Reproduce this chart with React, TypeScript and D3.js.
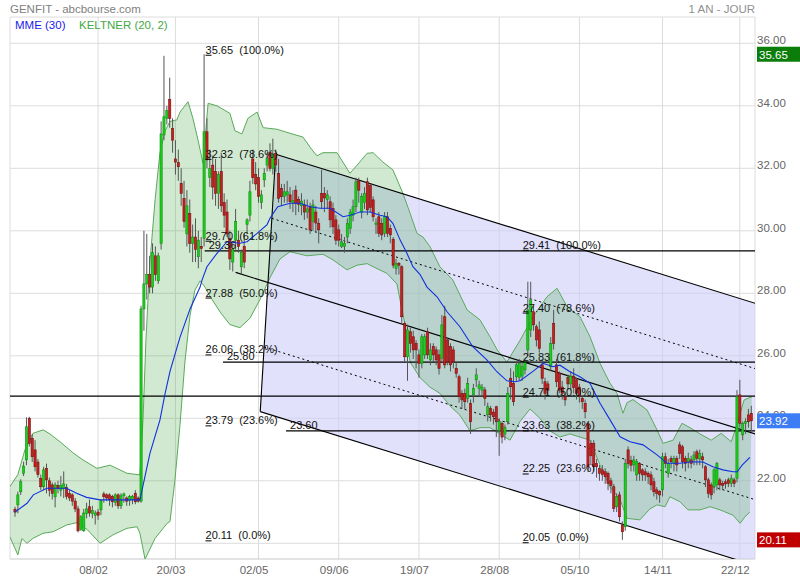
import React from "react";
import * as d3 from "d3";

// ---------- DATA ----------
// daily candles [open, high, low, close]
const ohlc: number[][] = [
  [21.09,21.17,20.85,21.0],[21.23,21.65,20.96,21.55],[21.65,22.05,21.55,21.97],[22.24,22.61,22.15,22.47],
  [22.67,24.03,22.5,23.73],[24.0,24.05,23.1,23.2],[23.36,23.5,22.6,22.77],[22.99,23.3,22.3,22.45],
  [22.6,22.7,22.1,22.2],[22.08,22.2,21.7,21.81],[21.81,22.45,21.7,22.35],[22.4,22.55,21.6,22.03],
  [22.0,22.1,21.5,21.7],[21.87,21.95,21.4,21.6],[21.49,21.95,21.15,21.87],[21.85,22.0,21.6,21.75],
  [21.7,22.15,21.5,21.85],[21.75,22.3,21.45,21.9],[21.78,21.9,21.4,21.5],[21.6,21.7,21.35,21.45],
  [21.55,21.6,21.2,21.35],[21.35,21.45,21.0,21.1],[21.1,21.2,20.35,20.4],[20.45,20.9,20.4,20.85],
  [20.4,21.1,20.37,20.97],[20.95,21.3,20.8,21.1],[21.17,21.4,20.85,20.97],[20.95,21.2,20.8,21.05],
  [20.9,21.05,20.6,20.97],[21.0,21.1,20.75,20.9],[21.07,21.4,20.9,21.36],[21.58,21.65,21.3,21.49],
  [21.55,21.6,21.35,21.45],[21.55,21.6,21.2,21.39],[21.5,21.55,21.15,21.33],[21.3,21.6,21.2,21.55],
  [21.55,21.6,21.1,21.2],[21.2,21.6,21.1,21.52],[21.52,21.62,21.3,21.58],[21.45,21.5,21.2,21.35],
  [21.38,21.55,21.2,21.5],[21.4,21.55,21.25,21.5],[21.6,21.7,21.25,21.33],[21.45,21.5,21.3,21.35],
  [21.35,27.6,21.3,27.5],[27.5,30.0,26.8,28.3],[28.3,29.9,27.8,28.6],[28.6,29.2,28.0,28.2],
  [28.2,29.6,28.0,29.3],[29.2,29.5,28.4,28.6],[28.4,29.3,28.3,29.2],[29.6,33.5,29.4,33.1],
  [33.07,35.6,32.9,33.65],[33.6,34.0,33.4,33.85],[34.2,34.9,33.3,33.6],[33.28,33.6,32.5,32.9],
  [32.3,32.9,31.8,32.2],[32.18,32.6,31.6,32.05],[31.52,32.0,30.8,31.2],[31.04,31.6,30.1,30.3],
  [29.9,31.3,29.5,30.8],[30.56,31.0,29.3,29.6],[29.6,30.2,29.0,29.8],[29.8,30.4,29.0,29.4],
  [29.17,30.0,28.8,29.7],[29.5,29.8,29.0,29.44],[29.76,35.65,29.5,33.17],[33.17,33.6,32.0,32.27],
  [31.7,32.6,31.4,32.0],[32.1,32.4,31.0,31.4],[31.9,32.3,30.8,31.2],[31.2,31.9,30.7,31.8],
  [31.9,32.5,30.6,30.8],[30.9,31.2,30.1,30.5],[30.6,31.0,29.8,29.9],[29.75,30.0,28.75,29.1],
  [29.0,29.6,28.7,29.4],[29.7,30.7,29.4,30.3],[29.7,30.0,29.3,29.5],[28.85,29.4,28.6,29.3],
  [29.5,29.9,28.8,29.0],[30.2,30.4,29.9,30.35],[30.5,31.6,30.3,31.25],[32.3,32.6,31.5,31.7],
  [31.8,32.2,31.3,31.5],[31.7,32.0,30.9,31.1],[30.9,31.3,30.7,31.15],[31.63,32.0,31.4,31.84],
  [32.1,32.5,31.9,32.32],[32.5,32.8,31.9,32.0],[32.0,32.95,31.8,32.45],[32.48,32.6,31.9,32.11],
  [31.84,32.3,30.9,31.04],[31.36,31.5,30.8,31.09],[31.1,31.5,30.9,31.25],[31.15,31.6,30.9,31.25],
  [31.15,31.4,30.7,30.93],[30.9,31.3,30.6,30.97],[31.3,31.45,30.5,30.88],[31.0,31.1,30.6,30.85],
  [30.8,31.2,30.5,30.95],[30.83,31.0,30.35,30.6],[30.6,31.0,30.4,30.7],[30.77,30.9,29.9,30.03],
  [30.3,31.0,30.0,30.83],[30.6,30.8,29.95,30.25],[30.24,30.4,29.6,30.03],[31.2,31.95,30.7,30.93],
  [31.2,31.4,30.6,31.05],[31.0,31.3,30.7,31.15],[30.93,31.1,30.1,30.35],[30.72,30.9,29.9,30.13],
  [30.35,30.5,29.55,29.7],[30.03,30.2,29.5,29.7],[29.5,29.9,29.45,29.65],[29.5,29.8,29.3,29.6],
  [29.8,30.4,29.6,30.24],[30.08,30.7,29.9,30.6],[30.5,31.0,30.3,30.77],[30.77,31.7,30.6,31.57],
  [31.6,31.7,30.9,31.3],[30.6,31.2,30.4,31.1],[30.9,31.4,30.7,31.2],[31.57,31.7,30.5,30.67],
  [31.45,31.5,30.6,30.75],[30.99,31.1,30.3,30.45],[30.2,30.4,29.9,30.25],[30.45,30.6,29.8,29.92],
  [30.24,30.4,29.7,29.87],[29.92,30.6,29.8,30.45],[30.45,30.6,29.8,29.92],[30.08,30.2,29.6,29.87],
  [29.73,29.8,28.8,28.9],[28.8,29.1,28.6,28.96],[28.96,29.0,28.6,28.9],[28.85,28.9,27.0,27.25],
  [27.04,27.1,25.8,25.97],[25.97,27.0,25.2,26.83],[26.77,26.9,26.1,26.4],[26.61,26.8,25.9,26.19],
  [26.4,26.5,25.6,26.19],[26.03,26.2,25.3,25.76],[25.76,26.7,25.6,26.61],[26.03,26.7,25.9,26.61],
  [26.77,26.9,25.9,26.03],[25.87,26.4,25.7,26.19],[26.3,26.4,25.8,26.03],[26.19,26.3,25.7,25.87],
  [26.03,26.2,25.4,25.6],[25.92,27.3,25.8,26.99],[27.25,27.6,25.6,25.71],[26.51,26.6,25.7,25.81],
  [26.3,26.4,25.5,25.71],[26.19,26.3,25.6,25.81],[25.6,25.8,25.3,25.44],[25.33,25.4,24.5,24.69],
  [24.8,24.9,24.3,24.59],[24.8,24.95,24.3,24.53],[24.64,25.3,24.5,25.12],[24.48,24.6,23.5,23.89],
  [24.75,25.1,24.5,24.96],[25.23,25.6,25.0,25.39],[24.96,25.2,24.7,25.07],[24.9,25.1,24.7,25.0],
  [24.91,25.0,24.4,24.64],[24.11,24.5,23.9,24.37],[24.32,24.4,23.9,24.11],[24.2,24.3,23.8,24.05],
  [24.37,24.4,23.4,23.89],[23.6,24.0,22.8,23.9],[23.84,23.9,23.2,23.4],[23.5,23.8,23.3,23.7],
  [23.89,25.0,23.8,24.8],[25.28,25.6,24.6,25.01],[25.12,25.5,24.4,24.53],[25.33,25.8,25.2,25.71],
  [25.3,25.9,25.2,25.75],[25.35,25.8,25.2,25.65],[25.55,25.9,25.4,25.81],[26.19,28.37,26.0,27.47],
  [26.83,28.37,26.6,27.79],[27.41,27.6,26.8,26.99],[26.93,27.0,26.3,26.51],[26.83,27.1,26.1,26.24],
  [25.71,25.9,25.1,25.28],[25.17,25.3,24.6,24.8],[25.1,25.2,24.7,24.9],[25.65,26.6,25.5,26.4],
  [27.04,27.47,26.2,26.4],[25.71,25.9,25.0,25.17],[25.45,25.5,24.8,24.9],[25.0,25.2,24.6,24.8],
  [24.69,24.8,24.4,24.59],[25.3,25.4,24.9,25.1],[25.1,25.5,24.9,25.35],[25.35,25.6,24.8,24.98],
  [25.23,25.3,24.6,24.8],[25.0,25.1,24.5,24.7],[24.64,24.7,24.3,24.53],[24.48,24.6,24.0,24.21],
  [23.84,23.9,22.3,22.45],[23.2,23.3,22.5,22.8],[23.2,23.3,22.3,22.45],[22.55,22.7,22.1,22.45],
  [22.4,22.5,22.0,22.24],[22.35,22.5,22.0,22.2],[22.29,22.4,21.9,22.13],[22.24,22.3,21.7,21.92],
  [22.0,22.1,21.6,21.85],[21.81,21.9,21.0,21.12],[21.17,21.6,21.0,21.49],[21.55,21.65,20.7,20.85],
  [20.59,20.7,20.11,20.37],[20.53,22.7,20.4,22.56],[22.99,23.1,22.4,22.56],[22.65,22.8,22.3,22.5],
  [22.51,22.8,22.3,22.67],[22.19,22.7,22.0,22.61],[22.56,22.6,22.0,22.24],[22.35,22.4,22.0,22.19],
  [22.29,22.4,22.0,22.19],[22.24,22.3,21.9,22.13],[22.19,22.3,21.7,21.87],[21.97,22.1,21.5,21.65],
  [21.71,21.8,21.4,21.6],[21.66,21.7,21.3,21.55],[21.71,22.9,21.5,22.77],[22.77,22.9,22.4,22.56],
  [22.24,22.7,22.1,22.56],[22.72,22.8,22.4,22.61],[22.56,22.8,22.3,22.72],[22.72,22.8,22.3,22.51],
  [23.15,23.25,22.7,22.88],[23.09,23.15,22.4,22.61],[22.72,22.8,22.3,22.56],[22.61,22.9,22.4,22.72],
  [22.67,22.8,22.4,22.56],[22.67,22.95,22.5,22.83],[22.93,23.0,22.5,22.72],[22.7,23.0,22.5,22.88],
  [22.77,22.9,22.4,22.67],[22.45,22.5,21.8,22.03],[22.03,22.1,21.45,21.6],[21.87,21.95,21.4,21.55],
  [21.81,22.4,21.6,22.35],[21.87,22.6,21.7,22.56],[22.03,22.1,21.7,21.87],[21.92,22.0,21.7,21.85],
  [21.97,22.05,21.75,21.9],[22.03,22.1,21.8,21.92],[21.92,22.2,21.8,22.08],[22.03,22.1,21.8,21.92],
  [22.08,24.9,21.95,24.69],[24.75,25.23,23.7,23.84],[23.47,23.9,23.3,23.84],[23.84,24.0,23.5,23.9],
  [24.11,24.3,23.7,23.89],[24.16,24.4,23.6,23.92],
];

const tickIdx = [29, 56, 85, 113, 141, 169, 197, 226, 253];
const tickLabels = ["08/02", "20/03", "02/05", "09/06", "19/07", "28/08", "05/10", "14/11", "22/12"];
const priceTicks = [20, 22, 24, 26, 28, 30, 32, 34, 36];

// Keltner (20, 2) bands and MME(30), read as [candle index, price]
const upperBand: number[][] = [
  [-1.8,21.81],[1,22.2],[3.5,23.0],[6.3,23.52],[9.8,23.63],[12.2,23.5],[15.7,23.25],[20.2,22.9],[23.7,22.67],
  [28.6,22.4],[33.2,22.5],[39.1,22.24],[43.6,22.19],[44.7,24.0],[45.7,26.5],[47.1,29.0],[48.9,31.0],
  [50.6,32.5],[52.4,33.2],[54.1,33.5],[56.5,33.55],[57.6,33.8],[60.4,34.13],[62.1,33.6],[63.9,32.9],
  [65.6,32.16],[67.4,34.08],[70.5,34.0],[75,33.76],[76.8,33.2],[79.2,33.1],[81.3,33.6],[84.5,33.8],
  [86.6,33.3],[91.4,33.25],[96,33.12],[100.5,33.0],[103.6,32.6],[105.4,32.4],[107.5,32.5],[112.4,32.5],
  [116.9,31.84],[119.4,32.1],[122.9,32.48],[125,32.5],[128.4,32.2],[131.9,31.95],[135.4,31.2],[137.9,30.56],
  [140.3,29.92],[142.4,29.8],[144.8,29.5],[148.3,28.85],[152.8,28.43],[157.8,27.47],[162.3,27.15],
  [165.8,26.61],[168.3,26.19],[171.7,25.8],[172.8,25.97],[176.3,26.5],[180.8,27.25],[185.7,27.89],
  [189.2,28.16],[192.7,27.57],[197.2,27.25],[200.7,26.61],[204.2,25.76],[207.7,25.12],[210.1,24.8],
  [212.2,24.16],[213.6,24.5],[215.7,24.6],[220.6,24.27],[224.1,23.63],[226.2,23.2],[229.7,23.3],
  [232.8,23.84],[235.6,23.7],[239.1,23.5],[243,23.3],[246.5,23.52],[250,23.25],[251.4,23.63],
  [254.5,24.59],[257.2,24.69],
];
const lowerBand: number[][] = [
  [-1.8,20.21],[1,19.63],[2.4,20.15],[4.2,20.0],[6.3,20.16],[9.8,20.32],[13.3,20.37],[18.1,20.59],
  [21.6,20.66],[25.1,20.45],[29.7,20.0],[34.2,20.27],[39.1,20.48],[42.6,20.53],[43.6,20.32],[45.4,19.49],
  [48.9,20.16],[53.1,20.64],[54.1,20.7],[55.8,22.0],[57.6,23.8],[59.3,25.8],[61.1,27.3],[62.8,28.1],
  [64.6,28.4],[66.3,28.2],[68.1,27.9],[71.6,27.4],[75,27.0],[78.5,26.9],[82,27.2],[85.5,27.8],[89,28.5],
  [92.5,29.1],[96,29.33],[101.9,29.2],[107.5,29.25],[111,29.07],[115.9,28.75],[119.4,28.9],[122.9,28.95],
  [125,28.85],[129.8,28.64],[133.3,28.3],[136.1,27.0],[137.9,25.8],[141.4,25.3],[144.8,25.0],[148.3,24.8],
  [151.8,24.4],[155.3,24.1],[158.8,23.6],[162.3,23.7],[165.8,23.7],[169.3,23.5],[172.8,23.3],[176.3,23.9],
  [179.8,24.3],[183.2,24.0],[186.7,23.6],[190.2,23.4],[193.7,23.5],[197.2,23.4],[200.7,23.3],[204.2,22.5],
  [207.7,21.8],[211.2,21.4],[213.6,20.8],[218.1,20.75],[221.6,21.1],[224.1,21.23],[226.9,21.17],
  [228.6,21.49],[232.1,21.33],[234.9,21.07],[239.1,21.07],[242.6,21.17],[246.1,21.07],[250.6,20.9],
  [253.1,20.64],[254.8,20.85],[256.5,21.0],
];
const mme: number[][] = [
  [0,21.0],[4.2,21.28],[6.4,21.55],[11.1,21.76],[18,21.76],[21.5,21.6],[25,21.47],[29.7,21.39],[43.6,21.39],
  [47.1,22.88],[50.6,23.95],[52.4,24.8],[54.1,25.5],[57.6,26.6],[61.1,27.5],[64.6,28.2],[65.3,28.43],
  [67,28.85],[70.5,29.28],[74,29.65],[78.5,29.6],[81,29.65],[84.5,29.92],[88,30.2],[89,30.4],[91.7,30.77],
  [96,30.88],[99.5,30.88],[103,30.77],[106.5,30.72],[110,30.72],[114.5,30.45],[117,30.5],[120.4,30.6],
  [124,30.6],[127.4,30.5],[129.8,30.45],[131.9,30.24],[134.4,29.71],[136.8,29.28],[138.9,28.85],
  [141.4,28.6],[143.8,28.2],[147.3,27.89],[150.8,27.41],[155.3,26.93],[159.8,26.29],[164.7,25.87],
  [168.2,25.49],[171.7,25.2],[174.5,25.17],[176.3,25.2],[180.8,25.5],[184.3,25.76],[187.8,25.65],
  [190.2,25.7],[193.7,25.49],[197.2,25.33],[200.7,25.12],[204.2,24.48],[207.7,23.95],[211.2,23.41],
  [214.7,23.25],[219.2,23.15],[224.1,22.83],[227.6,22.56],[232.1,22.56],[236.6,22.61],[240.1,22.6],
  [243.6,22.45],[247.1,22.35],[250.6,22.29],[252.1,22.29],[253.8,22.5],[256.5,22.75],
];

// Fibonacci retracements
const fibPct = ["100.0%", "78.6%", "61.8%", "50.0%", "38.2%", "23.6%", "0.0%"];
const fibA = [35.65, 32.32, 29.7, 27.88, 26.06, 23.79, 20.11];
const fibAAnchor = 66.5;
const fibB = [29.41, 27.4, 25.83, 24.71, 23.63, 22.25, 20.05];
const fibBAnchor = 177.2;

// horizontal lines: value, start index, label
const hLineValues = [29.36, 25.8, 24.71, 23.6];
const hLineStart = [66.2, 72.6, -2, 94.6];
const hLineLabels = ["29.36", "25.80", "", "23.60"];

// parallel channel (prices at index chanStart, slope per candle)
const chanStart = 91;
const chanSlope = -0.0285;
const chanTop = 32.45;
const chanMid = 28.27;
const chanBot = 24.06;
const chanBotStart = 85.6;
const chanMidStart = 77;

const lastHigh = 35.65;
const lastClose = 23.92;
const lastLow = 20.11;

// ---------- CHART ----------
export default function App() {
  const W = 800, H = 580;
  const L = 10, R = 755, T = 17, B = 559;
  const x = d3.scaleLinear().domain([0, ohlc.length - 1]).range([15, 751.3]);
  const y = d3.scaleLinear().domain([20, 36]).range([543.3, 43.3]);
  const line = d3.line<number[]>().x((d) => x(d[0])).y((d) => y(d[1]));

  const bandPath =
    (line(upperBand) as string) +
    "L" +
    (line(lowerBand.slice().reverse()) as string).slice(1) +
    "Z";

  const iR = x.invert(R + 2);
  const chan = (off: number, i: number) => off + chanSlope * (i - chanStart);
  const botLeftP = chan(chanBot, chanBotStart);
  const poly = [
    [chanStart, chanTop],
    [iR, chan(chanTop, iR)],
    [iR, chan(chanBot, iR)],
    [chanBotStart, botLeftP],
  ];
  const polyPath = (line(poly) as string) + "Z";
  const edgeT = (off: number) =>
    (off - chanTop) / (botLeftP - chanTop - chanSlope * (chanBotStart - chanStart));
  const edgeIdx = (off: number) => chanStart + edgeT(off) * (chanBotStart - chanStart);
  const dotOffsets = [(chanTop + chanMid) / 2, (chanMid + chanBot) / 2];

  const font = "Arial, 'Liberation Sans', Helvetica, sans-serif";
  const candleW = 2.2;

  return (
    <svg width={W} height={H} style={{ display: "block", position: "absolute", left: 0, top: 0 }} fontFamily={font}>
      <rect x={0} y={0} width={W} height={H} fill="#fff" />
      <defs>
        <clipPath id="plot">
          <rect x={L} y={T} width={R - L} height={B - T} />
        </clipPath>
      </defs>
      {/* grid */}
      <g stroke="#dcdcdc" strokeWidth={1}>
        {priceTicks.map((p) => (
          <line key={p} x1={L} x2={R} y1={y(p)} y2={y(p)} />
        ))}
        {tickIdx.map((t) => (
          <line key={t} x1={x(t)} x2={x(t)} y1={T} y2={B} />
        ))}
        <line x1={L} x2={R} y1={T} y2={T} />
        <line x1={L} x2={L} y1={T} y2={B} />
        <line x1={R} x2={R} y1={T} y2={B} />
        <line x1={L} x2={R} y1={B} y2={B} stroke="#c8c8c8" />
      </g>

      <g clipPath="url(#plot)">
        {/* channel fill */}
        <path d={polyPath} fill="rgba(205,205,250,0.6)" stroke="none" />
        {/* keltner band */}
        <path d={bandPath} fill="rgba(60,165,60,0.24)" stroke="none" />
        <path d={line(upperBand) as string} fill="none" stroke="#5aaa5a" strokeWidth={1} />
        <path d={line(lowerBand) as string} fill="none" stroke="#5aaa5a" strokeWidth={1} />

        {/* channel lines */}
        <g stroke="#000" strokeWidth={1.1} fill="none">
          <line x1={x(chanStart)} y1={y(chanTop)} x2={x(iR)} y2={y(chan(chanTop, iR))} />
          <line x1={x(chanBotStart)} y1={y(botLeftP)} x2={x(iR)} y2={y(chan(chanBot, iR))} />
          <line x1={x(chanStart)} y1={y(chanTop)} x2={x(chanBotStart)} y2={y(botLeftP)} />
          <line x1={x(chanMidStart)} y1={y(chan(chanMid, chanMidStart))} x2={x(iR)} y2={y(chan(chanMid, iR))} />
          {dotOffsets.map((o, k) => (
            <line key={k} x1={x(edgeIdx(o))} y1={y(chan(o, edgeIdx(o)))} x2={x(iR)} y2={y(chan(o, iR))}
              strokeDasharray="2,3" strokeWidth={1} />
          ))}
        </g>

        {/* horizontal lines */}
        {hLineValues.map((v, k) => (
          <line key={k} x1={Math.max(L, x(hLineStart[k]))} x2={R} y1={y(v)} y2={y(v)} stroke="#000" strokeWidth={1.2} />
        ))}

        {/* candles */}
        {ohlc.map((d, i) => {
          const [o, h, l, c] = d;
          const up = c >= o;
          const cx = x(i);
          const yt = y(Math.max(o, c));
          const yb = y(Math.min(o, c));
          return (
            <g key={i}>
              <line x1={cx} x2={cx} y1={y(h)} y2={y(l)} stroke="#555" strokeWidth={1} />
              <rect x={cx - candleW / 2} y={yt} width={candleW} height={Math.max(1, yb - yt)}
                fill={up ? "#1ccf1c" : "#c82020"} stroke={up ? "#119011" : "#7a1010"} strokeWidth={0.6} />
            </g>
          );
        })}

        {/* MME */}
        <path d={line(mme) as string} fill="none" stroke="#1030e0" strokeWidth={1.1} />
      </g>

      {/* fib labels */}
      <g fontSize={11} fill="#111">
        {fibA.map((v, k) => (
          <g key={"a" + k}>
            <text x={x(fibAAnchor)} y={y(v) - 0.5} style={{ whiteSpace: "pre" }}>{`${v.toFixed(2)}  (${fibPct[k]})`}</text>
            <line x1={x(fibAAnchor)} x2={x(fibAAnchor) + 6} y1={y(v) + 1} y2={y(v) + 1} stroke="#000" strokeWidth={1} />
          </g>
        ))}
        {fibB.map((v, k) => (
          <g key={"b" + k}>
            <text x={x(fibBAnchor)} y={y(v) - 0.5} style={{ whiteSpace: "pre" }}>{`${v.toFixed(2)}  (${fibPct[k]})`}</text>
            <line x1={x(fibBAnchor)} x2={x(fibBAnchor) + 6} y1={y(v) + 1} y2={y(v) + 1} stroke="#000" strokeWidth={1} />
          </g>
        ))}
        {hLineValues.map((v, k) =>
          hLineLabels[k] ? (
            <text key={"h" + k} x={x(hLineStart[k]) + 4} y={y(v) - 2}>{hLineLabels[k]}</text>
          ) : null
        )}
      </g>

      {/* title & legend */}
      <text x={10} y={13} fontSize={11.5} fill="#808080">GENFIT - abcbourse.com</text>
      <text x={755} y={13} fontSize={11.5} fill="#909090" textAnchor="end">1 AN - JOUR</text>
      <text x={15} y={29} fontSize={11.5} fill="#1a1aee">MME (30)</text>
      <text x={79} y={29} fontSize={11.5} fill="#44a844">KELTNER (20, 2)</text>

      {/* y axis labels */}
      <g fontSize={11.5} fill="#666">
        {priceTicks.filter((p) => p > 20).map((p) => (
          <text key={p} x={757} y={y(p) + 1}>{p.toFixed(2)}</text>
        ))}
      </g>
      {/* value badges */}
      {[
        [lastHigh, "#0a7d0a"],
        [lastClose, "#3c7cf4"],
        [lastLow, "#c00000"],
      ].map(([v, col], k) => (
        <g key={k}>
          <rect x={757} y={y(v as number) - 7.5} width={43} height={15} fill={col as string} />
          <text x={759} y={y(v as number) + 4.5} fontSize={11.5} fill="#fff">{(v as number).toFixed(2)}</text>
        </g>
      ))}

      {/* x axis labels */}
      <g fontSize={11.5} fill="#666" textAnchor="middle">
        {tickIdx.map((t, k) => (
          <text key={t} x={x(t) - 4.5} y={574}>{tickLabels[k]}</text>
        ))}
      </g>
    </svg>
  );
}
